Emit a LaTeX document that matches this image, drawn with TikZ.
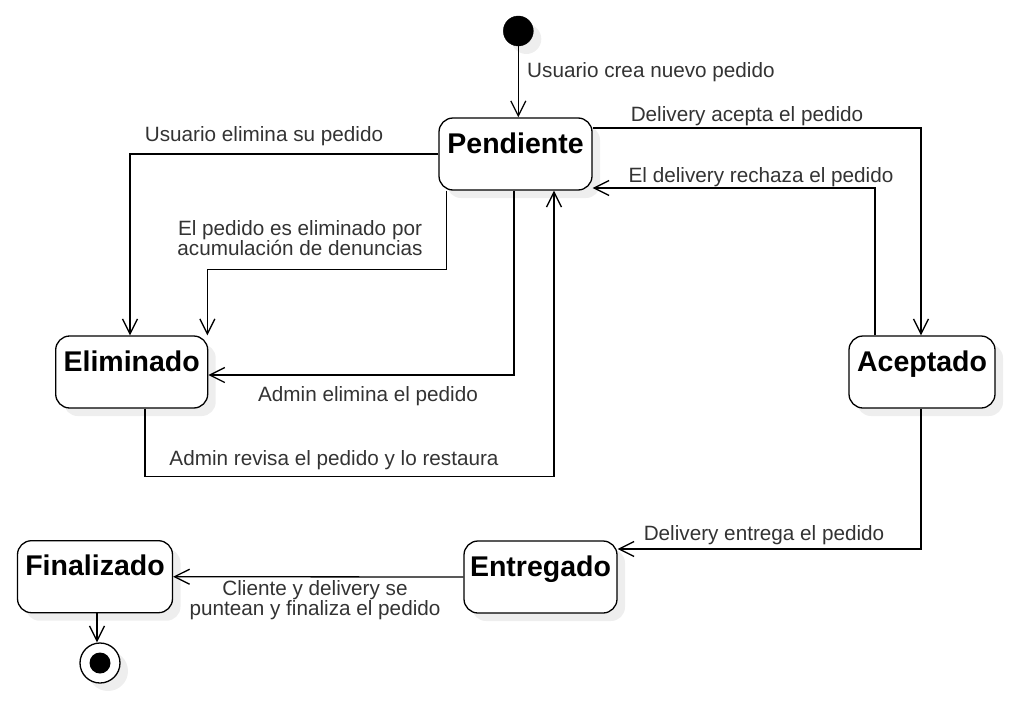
\documentclass[tikz,border=0pt]{standalone}
\usepackage{fontspec}
\setmainfont{Liberation Sans}
\usetikzlibrary{arrows.meta,calc,shadows}
\definecolor{lbl}{HTML}{333333}
\definecolor{shd}{HTML}{EEEEEE}
\begin{document}
\begin{tikzpicture}[x=1pt,y=-1pt,
  shd/.style={general shadow={fill=shd, shadow xshift=8pt, shadow yshift=-8pt}},
  state/.style={draw=black, line width=1.3pt, fill=white, rounded corners=14pt, shd,
    font=\fontsize{28.5}{30}\selectfont\bfseries, inner xsep=0pt, inner ysep=4pt,
    text height=31pt, text depth=33pt, minimum height=72pt},
  arr/.style={line width=1.3pt, -{Straight Barb[length=15pt,width=15pt,line width=1.3pt]}},
  lab/.style={text=lbl, font=\fontsize{20.7}{19}\selectfont, inner sep=0pt, align=center}
]
\useasboundingbox (0,0) rectangle (1033,712);

% states
\node[state, minimum width=153pt] (P) at (515.5,154) {Pendiente};
\node[state, minimum width=152pt] (E) at (131.7,372) {Eliminado};
\node[state, minimum width=146pt] (A) at (922,372) {Aceptado};
\node[state, minimum width=153pt] (G) at (540.5,577) {Entregado};
\node[state, minimum width=155pt] (F) at (95,576.7) {Finalizado};

% initial / final
\node[circle, fill=black, draw=black, minimum size=30pt, inner sep=0pt, shd] (init) at (518.3,31) {};
\node[circle, fill=white, draw=black, line width=1.3pt, minimum size=40pt, inner sep=0pt, shd] (fin) at (100,663) {};
\node[circle, fill=black, minimum size=21pt, inner sep=0pt] (fininner) at (fin) {};

% connectors
\draw[arr] (init.south) -- (P.north -| init.south);
\draw[arr] (P.west) -| ($(E.north)+(-1.7,0)$);
\draw[arr] ($(P.south west)+(8,0)$) |- ($(E.north east)+(-1,-66)$) -- ($(E.north east)+(-1,0)$);
\draw[arr] ($(P.south)+(-1.5,0)$) |- ($(E.east)+(0,3)$);
\draw[arr] ($(E.south)+(13.3,0)$) -- ++(0,68) -| ($(P.south)+(38.5,0)$);
\draw[arr] ($(P.east)+(0,-26)$) -| ($(A.north)+(-1,0)$);
\draw[arr] ($(A.north)+(-47,0)$) |- ($(P.east)+(0,34)$);
\draw[arr] ($(A.south)+(-1,0)$) |- ($(G.east)+(0,-28)$);
\draw[arr] (G.west) -- (F.east);
\draw[arr] ($(F.south)+(2,0)$) -- ($(fin.north)+(-3,0)$);

% labels
\node[lab, anchor=west] (l1) at (527,72) {Usuario crea nuevo pedido};
\node[lab] (l2) at (264,136) {Usuario elimina su pedido};
\node[lab] (l3) at (747,116) {Delivery acepta el pedido};
\node[lab] (l4) at (761,177) {El delivery rechaza el pedido};
\node[lab] (l5) at (300,238) {El pedido es eliminado por\\acumulación de denuncias};
\node[lab] (l6) at (368,396) {Admin elimina el pedido};
\node[lab] (l7) at (334,460) {Admin revisa el pedido y lo restaura};
\node[lab] (l8) at (764,535) {Delivery entrega el pedido};
\node[lab] (l9) at (315,600) {Cliente y delivery se\\puntean y finaliza el pedido};
\end{tikzpicture}
\end{document}
